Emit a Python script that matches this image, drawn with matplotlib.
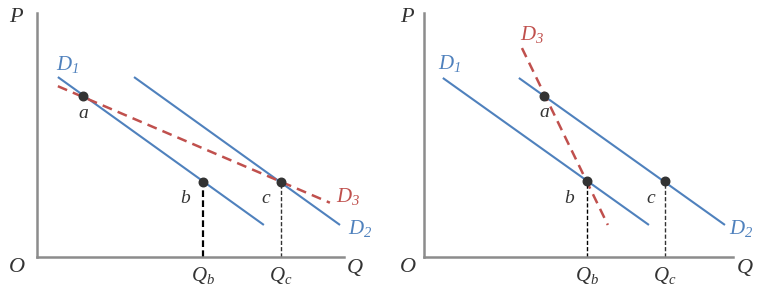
import matplotlib
matplotlib.use("Agg")
import matplotlib.pyplot as plt

plt.rcParams['mathtext.fontset'] = 'custom'
plt.rcParams['mathtext.it'] = 'Liberation Serif:italic'
plt.rcParams['mathtext.rm'] = 'Liberation Serif:italic'
plt.rcParams['font.family'] = 'Liberation Serif'

BLUE = '#4f81bd'
RED = '#c0504d'
DARK = '#333333'
AXIS = '#8c8c8c'

# left panel: D3 flatter than D1/D2
left_d1_q = [0.68, 7.39]
left_d1_p = [5.90, 1.05]
left_d2_q = [3.16, 9.87]
left_d2_p = [5.90, 1.05]
left_d3_q = [0.68, 9.54]
left_d3_p = [5.60, 1.78]
left_pts_q = [1.50, 5.41, 7.95]   # a, b, c
left_pts_p = [5.28, 2.46, 2.46]

# right panel: D3 steeper
right_d1_q = [0.61, 7.28]
right_d1_p = [5.87, 1.05]
right_d2_q = [3.07, 9.74]
right_d2_p = [5.87, 1.05]
right_d3_q = [3.17, 5.95]
right_d3_p = [6.85, 1.05]
right_pts_q = [3.88, 5.28, 7.80]
right_pts_p = [5.28, 2.49, 2.49]

pt_names = ['a', 'b', 'c']
q_names = ['$Q_b$', '$Q_c$']


def panel(ax, d1, d2, d3, pts, labels, qb_lw):
    ax.plot(*d1, color=BLUE, lw=1.5, solid_capstyle='butt')
    ax.plot(*d2, color=BLUE, lw=1.5, solid_capstyle='butt')
    ax.plot(*d3, color=RED, lw=1.8, ls=(0, (4, 2.5)))
    q, p = pts
    # guide lines down to the Q axis for b and c
    ax.plot([q[1], q[1]], [0, p[1]], color='black', lw=qb_lw, ls=(0, (3, 1.5)))
    ax.plot([q[2], q[2]], [0, p[2]], color=DARK, lw=1.0, ls=(0, (3, 1.5)))
    ax.scatter(q, p, s=38, color=DARK, zorder=5)

    for name, (x, y) in zip(pt_names, labels['pts']):
        ax.text(x, y, name, fontsize=14, style='italic', color=DARK, ha='center', va='center')
    for name, x in zip(q_names, [q[1], q[2]]):
        ax.text(x, -0.6, name, fontsize=15, color=DARK, ha='center', va='center')
    for name, (x, y), col in labels['curves']:
        ax.text(x, y, name, fontsize=15, color=col, ha='center', va='center')

    ax.text(labels['O'], -0.045, '$O$', transform=ax.transAxes, fontsize=16, color=DARK,
            ha='center', va='center')
    ax.text(labels['O'], 0.98, '$P$', transform=ax.transAxes, fontsize=16, color=DARK,
            ha='center', va='center')
    ax.text(labels['Q'], -0.045, '$Q$', transform=ax.transAxes, fontsize=16, color=DARK,
            ha='center', va='center')

    ax.set_xlim(0, 10)
    ax.set_ylim(0, 8)
    for s in ['top', 'right']:
        ax.spines[s].set_visible(False)
    for s in ['left', 'bottom']:
        ax.spines[s].set_color(AXIS)
        ax.spines[s].set_linewidth(1.8)
    ax.set_xticks([])
    ax.set_yticks([])
    ax.patch.set_alpha(0)


W, H = 773, 302
fig = plt.figure(figsize=(W / 100, H / 100), dpi=100)

ax1 = fig.add_axes([37 / W, 45 / H, 307 / W, 244 / H])
panel(ax1, (left_d1_q, left_d1_p), (left_d2_q, left_d2_p), (left_d3_q, left_d3_p),
      (left_pts_q, left_pts_p),
      {'pts': [(1.50, 4.72), (4.82, 1.93), (7.46, 1.93)],
       'curves': [('$D_1$', (0.98, 6.30), BLUE), ('$D_3$', (10.13, 1.97), RED),
                  ('$D_2$', (10.52, 0.95), BLUE)],
       'O': -0.065, 'Q': 1.036},
      qb_lw=1.6)

ax2 = fig.add_axes([424 / W, 45 / H, 309 / W, 244 / H])
panel(ax2, (right_d1_q, right_d1_p), (right_d2_q, right_d2_p), (right_d3_q, right_d3_p),
      (right_pts_q, right_pts_p),
      {'pts': [(3.88, 4.75), (4.69, 1.93), (7.35, 1.93)],
       'curves': [('$D_1$', (0.84, 6.36), BLUE), ('$D_3$', (3.50, 7.28), RED),
                  ('$D_2$', (10.26, 0.95), BLUE)],
       'O': -0.052, 'Q': 1.039},
      qb_lw=1.0)

fig.savefig('out.png', dpi=100, facecolor='white')
